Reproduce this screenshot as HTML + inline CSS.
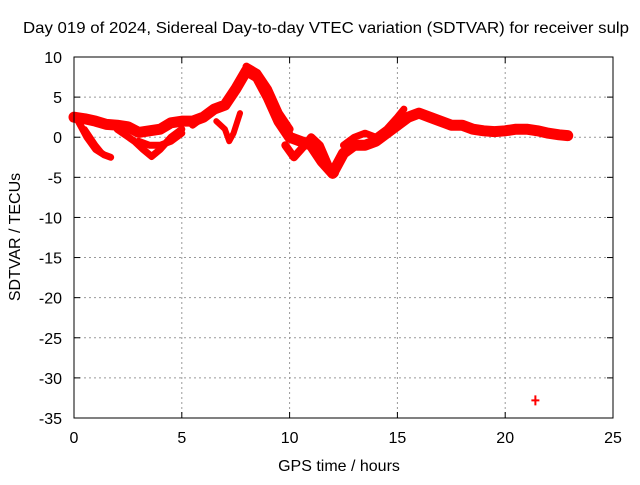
<!DOCTYPE html>
<html><head><meta charset="utf-8"><style>
body{margin:0;background:#fff}
svg text{font-family:"Liberation Sans",sans-serif;font-size:16px;fill:#000}
</style></head><body>
<svg id="c" width="640" height="480">
<text x="326" y="33" text-anchor="middle" textLength="606" lengthAdjust="spacingAndGlyphs">Day 019 of 2024, Sidereal Day-to-day VTEC variation (SDTVAR) for receiver sulp</text>
<text x="339" y="471" text-anchor="middle">GPS time / hours</text>
<text transform="translate(20,237) rotate(-90)" text-anchor="middle">SDTVAR / TECUs</text>
<g id="grid"></g><g id="data"></g>
<rect x="74" y="57" width="539" height="361" fill="none" stroke="#000" stroke-width="1"/>
</svg>
<script>
const xTicks=[0,5,10,15,20,25];
const yTicks=[10,5,0,-5,-10,-15,-20,-25,-30,-35];
const mainT=[0,0.5,1,1.5,2,2.5,3,3.5,4,4.5,5,5.5,6,6.5,7,7.5,8,8.5,9,9.5,10,10.5,11,11.5,12,12.5,13,13.5,14,14.5,15,15.5,16,16.5,17,17.5,18,18.5,19,19.5,20,20.5,21,21.5,22,22.5,22.9];
const mainV=[2.5,2.3,2,1.6,1.5,1.3,0.6,0.8,1,1.8,2,2,2.5,3.5,4,6,8.3,7.5,5,2,0,-0.5,-1,-3,-4.5,-2,-1,-1,-0.5,0.5,1.5,2.5,3,2.5,2,1.5,1.5,1,0.8,0.7,0.8,1,1,0.8,0.5,0.3,0.2];
const trackA_T=[0.2,0.6,1,1.4,1.7];const trackA_V=[2,0,-1.5,-2.2,-2.5];
const trackB_T=[0.5,1,1.3];const trackB_V=[1,-1,-2];
const trackC_T=[2,2.8,3.2,3.6,4,4.5,5];const trackC_V=[1,-0.5,-1.5,-2.4,-1.5,0,1];
const trackD_T=[3,3.5,4,4.5,5];const trackD_V=[-0.5,-1,-1,-0.5,0.5];
const trackE_T=[5.5,6,6.5,7];const trackE_V=[1.5,2.5,3.5,4.2];
const trackF_T=[6.6,7,7.2,7.4,7.7];const trackF_V=[2,1,-0.5,0.5,3];
const trackG_T=[8,8.5,9,9.5,10];const trackG_V=[8.8,8,6,3,1];
const trackH_T=[9.8,10.2,10.7,11,11.4,11.8,12.1];const trackH_V=[-1,-2.5,-1,0,-1,-3.5,-4.5];
const trackI_T=[12.5,13,13.5,14,14.5,15,15.3];const trackI_V=[-1,0,0.5,0,1,2.5,3.5];
const outT=[21.4];const outV=[-32.8];
const X=t=>74+t*539/25, Y=v=>57+(10-v)*361/45;
const NS='http://www.w3.org/2000/svg';
const g=document.getElementById('grid'), d=document.getElementById('data');
function mk(tag,attrs,parent){const e=document.createElementNS(NS,tag);for(const k in attrs)e.setAttribute(k,attrs[k]);parent.appendChild(e);return e;}
xTicks.forEach(t=>{
 if(t>0&&t<25){const l=mk('line',{x1:X(t),x2:X(t),y1:57,y2:418,stroke:'#999','stroke-dasharray':'2,3'},g);
 
 }
 mk('line',{x1:X(t),x2:X(t),y1:418,y2:412,stroke:'#000'},g);
 mk('line',{x1:X(t),x2:X(t),y1:57,y2:63,stroke:'#000'},g);
 const tx=mk('text',{x:X(t),y:443,'text-anchor':'middle'},g);tx.textContent=t;
 
 
});
yTicks.forEach(v=>{
 if(v<10&&v>-35){const l=mk('line',{x1:74,x2:613,y1:Y(v),y2:Y(v),stroke:'#999','stroke-dasharray':'2,3'},g);
 
 }
 mk('line',{x1:74,x2:80,y1:Y(v),y2:Y(v),stroke:'#000'},g);
 mk('line',{x1:613,x2:607,y1:Y(v),y2:Y(v),stroke:'#000'},g);
 const tx=mk('text',{x:62,y:Y(v)+6,'text-anchor':'end'},g);tx.textContent=v;
 
 
});
function track(T,V,w,name){
 const p=T.map((t,i)=>X(t)+','+Y(V[i])).join(' ');
 const e=mk('polyline',{points:p,fill:'none',stroke:'#f00','stroke-width':w,'stroke-linejoin':'round','stroke-linecap':'round'},d);
 
 
}
track(mainT,mainV,11,'sdtvar-main-track');
track(trackA_T,trackA_V,7,'sdtvar-track-a');
track(trackB_T,trackB_V,6,'sdtvar-track-b');
track(trackC_T,trackC_V,7,'sdtvar-track-c');
track(trackD_T,trackD_V,7,'sdtvar-track-d');
track(trackE_T,trackE_V,7,'sdtvar-track-e');
track(trackF_T,trackF_V,6,'sdtvar-track-f');
track(trackG_T,trackG_V,8,'sdtvar-track-g');
track(trackH_T,trackH_V,8,'sdtvar-track-h');
track(trackI_T,trackI_V,7,'sdtvar-track-i');
outT.forEach((t,i)=>{
 const p=mk('path',{d:`M${X(t)-4},${Y(outV[i])}h8M${X(t)},${Y(outV[i])-5}v10`,stroke:'#f00','stroke-width':2},d);
 
 
});
</script>
</body></html>
